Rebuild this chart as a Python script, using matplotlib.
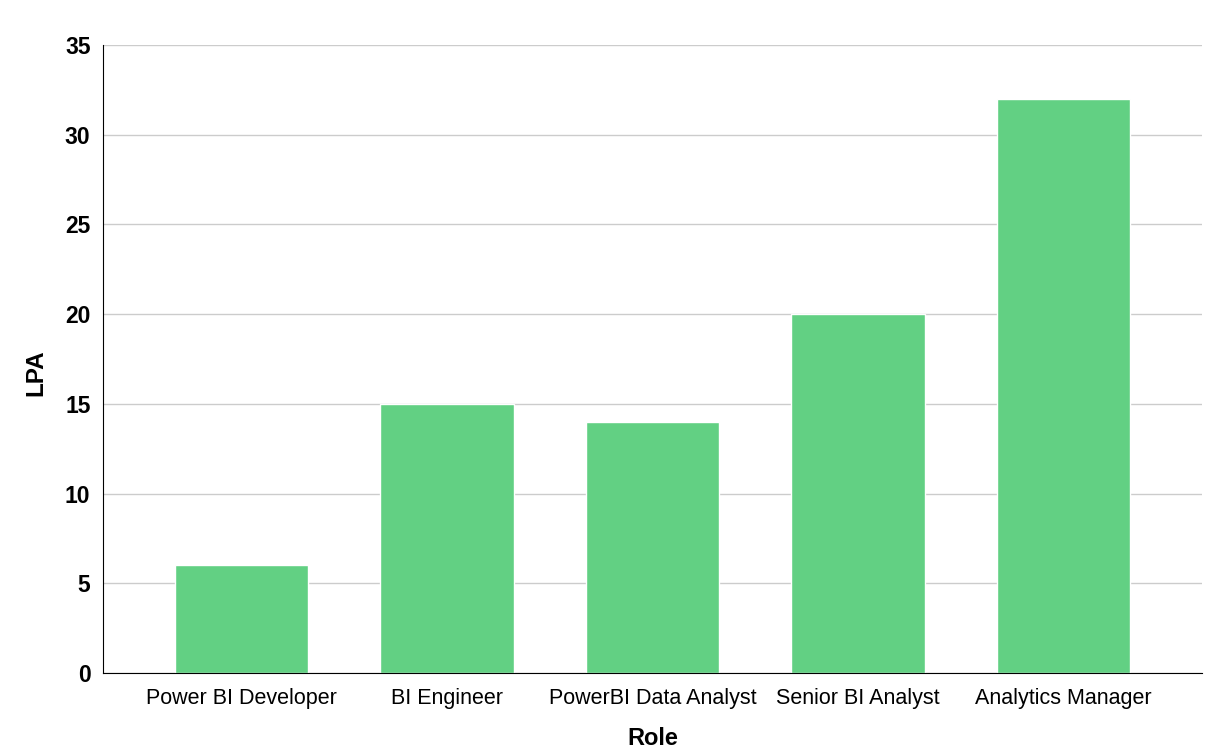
import matplotlib.pyplot as plt

roles = ["Power BI Developer", "BI Engineer", "PowerBI Data Analyst",
         "Senior BI Analyst", "Analytics Manager"]
lpa = [6, 15, 14, 20, 32]

plt.rcParams['font.family'] = ['Liberation Sans', 'DejaVu Sans']

fig = plt.figure(figsize=(12.2, 7.55), dpi=100)
ax = fig.add_axes([0.0844, 0.1086, 0.9008, 0.8318])

ax.bar(range(len(roles)), lpa, width=0.65, color="#62d083",
       edgecolor="white", linewidth=1.0, zorder=3)

ax.set_xlim(-0.675, len(roles) - 1 + 0.675)
ax.set_ylim(0, 35)
ax.set_yticks(range(0, 36, 5))
ax.set_xticks(range(len(roles)))
ax.set_xticklabels(roles, fontsize=15.5)
for lbl in ax.get_yticklabels():
    lbl.set_fontsize(16.5)
    lbl.set_fontweight("bold")

ax.grid(axis="y", color="#cccccc", linewidth=1, zorder=0)
ax.tick_params(axis="x", length=0, pad=11)
ax.tick_params(axis="y", length=0, pad=9)
for s in ["top", "right"]:
    ax.spines[s].set_visible(False)
ax.spines["left"].set_color("black")
ax.spines["bottom"].set_color("black")
ax.spines["bottom"].set_zorder(4)

ax.set_xlabel("Role", fontsize=17, fontweight="bold", labelpad=13)
ax.set_ylabel("LPA", fontsize=17.5, fontweight="bold")
ax.yaxis.set_label_coords(-0.051, 0.479)

fig.savefig("out.png", dpi=100)
